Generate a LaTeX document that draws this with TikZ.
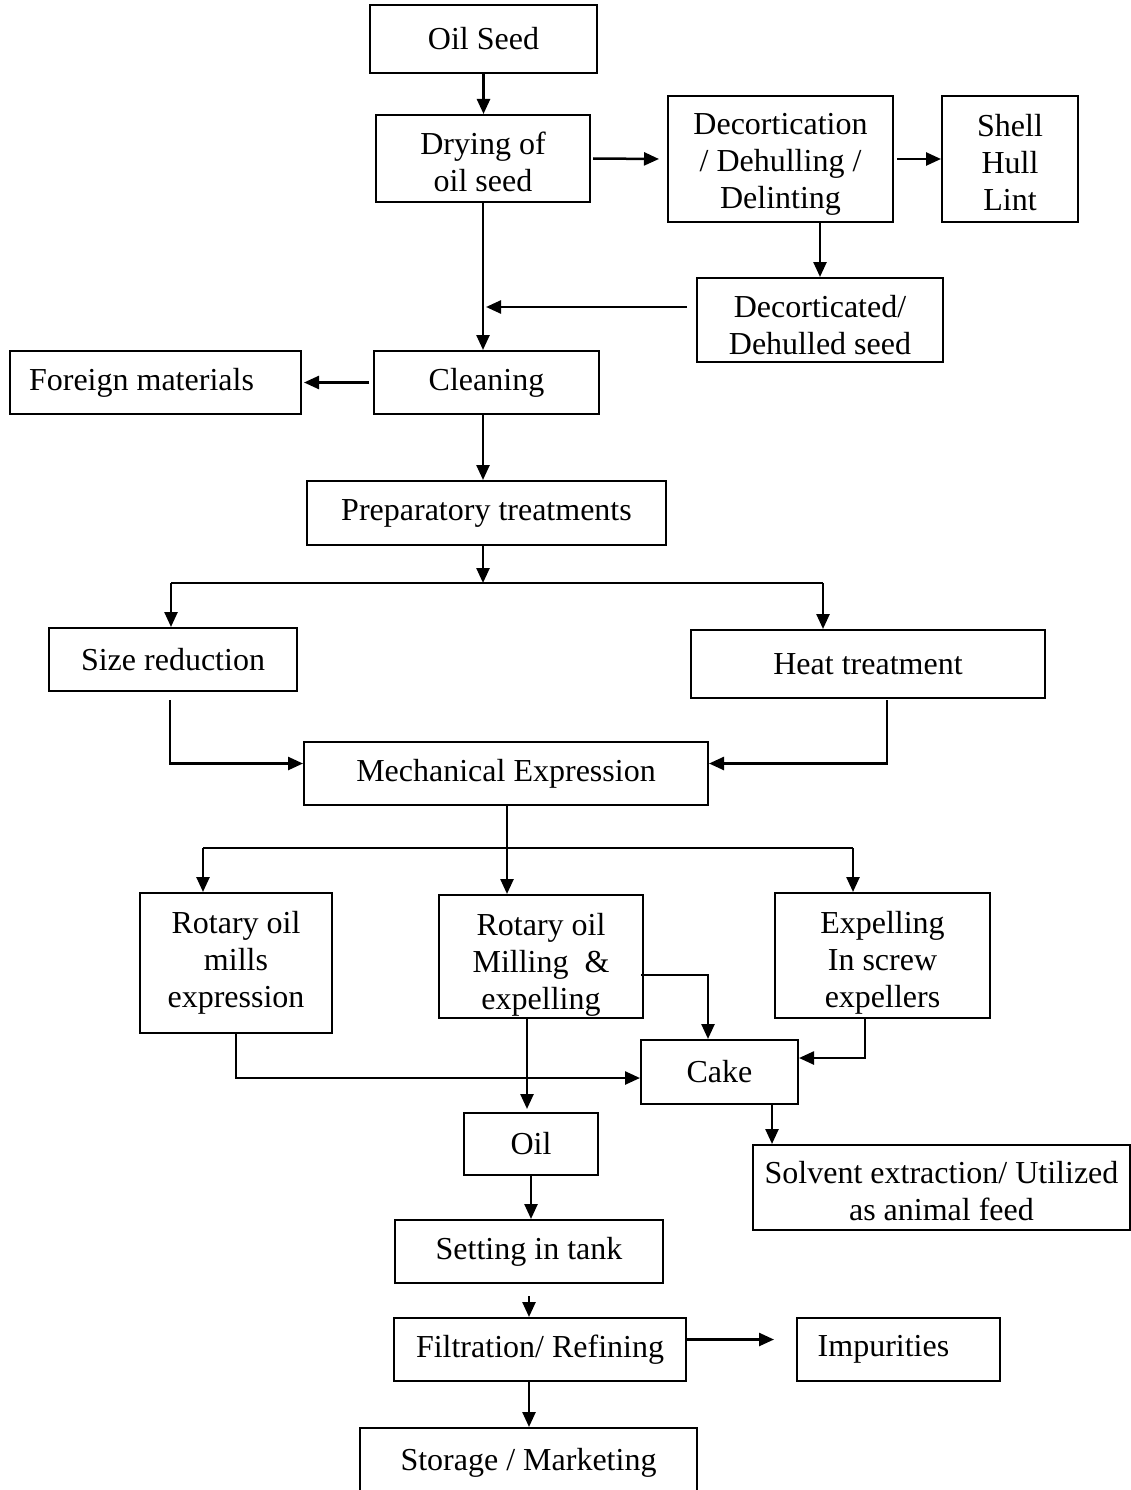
\documentclass[tikz,border=0pt]{standalone}
\usepackage{fontspec}
\setmainfont{Liberation Serif}
\usepackage{tikz}
\usetikzlibrary{arrows.meta,positioning,calc}

\begin{document}
\begin{tikzpicture}[x=1pt, y=-1pt, >={Triangle[length=15pt,width=13pt]},
        every node/.style={draw, line width=2pt, align=center,
        inner sep=0pt, font=\fontsize{32}{37}\selectfont},
        link/.style={line width=2.5pt, ->}]
    \useasboundingbox (0,0) rectangle (1130,1490);

    \node[minimum width=227pt, minimum height=68pt] (nodeSeed) at (483.5,39) {Oil Seed};
    \node[minimum width=214pt, minimum height=87pt] (nodeDry) at (483,158.5) {\rule{0pt}{30pt}Drying of\\ oil seed};
    \node[minimum width=225pt, minimum height=126pt] (nodeDecort) at (780.5,159) {\rule{0pt}{32pt}Decortication\\ / Dehulling /\\ Delinting};
    \node[minimum width=136pt, minimum height=126pt] (nodeShell) at (1010,159) {\rule{0pt}{30pt}Shell\\ Hull\\ Lint};
    \node[minimum width=246pt, minimum height=84pt] (nodeDehulled) at (820,320) {\rule{0pt}{32pt}Decorticated/\\ Dehulled seed};
    \node[minimum width=291pt, minimum height=63pt] (nodeForeign) at (155.5,382.5) {Foreign materials\hspace{28pt}};
    \node[minimum width=225pt, minimum height=63pt] (nodeClean) at (486.5,382.5) {Cleaning};
    \node[minimum width=359pt, minimum height=64pt] (nodePrep) at (486.5,513) {Preparatory treatments};
    \node[minimum width=248pt, minimum height=63pt] (nodeSize) at (173,659.5) {Size reduction};
    \node[minimum width=354pt, minimum height=68pt] (nodeHeat) at (868,664) {Heat treatment};
    \node[minimum width=404pt, minimum height=63pt] (nodeMech) at (506,773.5) {Mechanical Expression};
    \node[minimum width=192pt, minimum height=140pt] (nodeRotary) at (236,963) {Rotary oil\\ mills\\ expression};
    \node[minimum width=204pt, minimum height=123pt] (nodeMilling) at (541,956.5) {\rule{0pt}{38pt}Rotary oil\\ Milling \ \&\\ expelling};
    \node[minimum width=215pt, minimum height=125pt] (nodeExpel) at (882.5,955.5) {\rule{0pt}{36pt}Expelling\\ In screw\\ expellers};
    \node[minimum width=157pt, minimum height=64pt] (nodeCake) at (719.5,1072) {Cake};
    \node[minimum width=134pt, minimum height=62pt] (nodeOil) at (531,1144) {Oil};
    \node[minimum width=377pt, minimum height=85pt] (nodeSolvent) at (941.5,1187.5) {\rule{0pt}{30pt}Solvent extraction/ Utilized\\ as animal feed};
    \node[minimum width=268pt, minimum height=63pt] (nodeTank) at (529,1251.5) {Setting in tank};
    \node[minimum width=292pt, minimum height=63pt] (nodeFilter) at (540,1349.5) {Filtration/ Refining};
    \node[minimum width=203pt, minimum height=63pt] (nodeImpure) at (898.5,1349.5) {Impurities\hspace{30pt}};
    \node[minimum width=337pt, minimum height=70pt] (nodeStore) at (528.5,1463) {Storage / Marketing};

    \coordinate (joinDry) at (486,307);
    \coordinate (splitPrep) at (483,583);
    \coordinate (toSize) at (171,583);
    \coordinate (toHeat) at (823,583);
    \coordinate (fromSize) at (170,700);
    \coordinate (fromHeat) at (887,700);
    \coordinate (splitMech) at (507,848);
    \coordinate (toRotary) at (203,848);
    \coordinate (toExpel) at (853,848);
    \coordinate (fromCake) at (772,1104);

    \draw[link] (nodeSeed.south) -- (nodeSeed.south |- nodeDry.north);
    \draw[link] ([xshift=2pt]nodeDry.east) -- ([xshift=-8pt]nodeDecort.west);
    \draw[link] ([xshift=3pt]nodeDecort.east) -- (nodeShell.west);
    \draw[link] (nodeDehulled.north |- nodeDecort.south) -- (nodeDehulled.north);
    \draw[link] (nodeDry.south) -- (nodeDry.south |- nodeClean.north);
    \draw[link] ([xshift=-9pt,yshift=13pt]nodeDehulled.west) -- (joinDry);
    \draw[link] ([xshift=-4pt]nodeClean.west) -- ([xshift=2pt]nodeForeign.east);
    \draw[link] (nodeDry.south |- nodeClean.south) -- (nodeDry.south |- nodePrep.north);

    \draw[link] (splitPrep |- nodePrep.south) -- (splitPrep);
    \draw[line width=2pt] (toSize) -- (toHeat);
    \draw[link] (toSize) -- (toSize |- nodeSize.north);
    \draw[link] (toHeat) -- (toHeat |- nodeHeat.north);
    \draw[link] (fromSize) |- ([yshift=10pt]nodeMech.west);
    \draw[link] (fromHeat) |- ([yshift=10pt]nodeMech.east);

    \draw[link] (splitMech |- nodeMech.south) -- (splitMech |- nodeMilling.north);
    \draw[line width=2pt] (toRotary) -- (toExpel);
    \draw[link] (toRotary) -- (toRotary |- nodeRotary.north);
    \draw[link] (toExpel) -- (toExpel |- nodeExpel.north);

    \draw[link] (nodeRotary.south) |- ([yshift=-6pt]nodeCake.west);
    \draw[link] ([xshift=-3pt,yshift=-18.5pt]nodeMilling.east) -| ([xshift=-11.5pt]nodeCake.north);
    \draw[link] ([xshift=-14pt]nodeMilling.south) -- ([xshift=-4pt,yshift=3pt]nodeOil.north);
    \draw[link] ([xshift=-17.5pt]nodeExpel.south) |- ([yshift=14pt]nodeCake.east);
    \draw[link] (fromCake) -- (fromCake |- nodeSolvent.north);

    \draw[link] (nodeOil.south) -- (nodeOil.south |- nodeTank.north);
    \draw[link] ([yshift=-12pt]nodeTank.south) -- (nodeTank.south |- nodeFilter.north);
    \draw[link] ([yshift=10pt]nodeFilter.east) -- ([xshift=-22pt,yshift=10pt]nodeImpure.west);
    \draw[link] (nodeTank.south |- nodeFilter.south) -- (nodeTank.south |- nodeStore.north);
\end{tikzpicture}
\end{document}
